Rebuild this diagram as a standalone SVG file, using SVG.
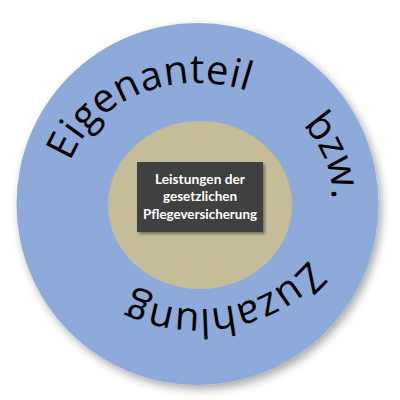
<svg xmlns="http://www.w3.org/2000/svg" width="400" height="400" viewBox="0 0 400 400">
  <defs>
    <filter id="softShadow" x="-20%" y="-20%" width="140%" height="140%">
      <feGaussianBlur in="SourceAlpha" stdDeviation="5"/>
      <feOffset dx="3" dy="4" result="b"/>
      <feComponentTransfer><feFuncA type="linear" slope="0.35"/></feComponentTransfer>
      <feMerge><feMergeNode/><feMergeNode in="SourceGraphic"/></feMerge>
    </filter>
    <filter id="boxShadow" x="-10%" y="-10%" width="130%" height="130%">
      <feGaussianBlur in="SourceAlpha" stdDeviation="1.5"/>
      <feOffset dx="2" dy="2"/>
      <feComponentTransfer><feFuncA type="linear" slope="0.4"/></feComponentTransfer>
      <feMerge><feMergeNode/><feMergeNode in="SourceGraphic"/></feMerge>
    </filter>
    <path id="ring" d="M64,196 A134,113 0 1,1 332,196 A134,113 0 1,1 64,196"/>
    <style>
      .arc { font-family: "Open Sans", "DejaVu Sans", sans-serif; font-size: 40px; fill: #000; }
      .inner { font-family: Lato, "Open Sans", sans-serif; font-weight: bold; font-size: 13.5px; fill: #fff; text-anchor: middle; }
    </style>
  </defs>

  <g id="outer-ring">
    <circle cx="197.5" cy="204" r="181" fill="#8EAADB" filter="url(#softShadow)"/>
    <text class="arc" letter-spacing="0.5"><textPath href="#ring" startOffset="35">Eigenanteil</textPath></text>
    <text class="arc" letter-spacing="-1"><textPath href="#ring" startOffset="310">bzw.</textPath></text>
    <text class="arc" letter-spacing="0"><textPath href="#ring" startOffset="458">Zuzahlung</textPath></text>
  </g>

  <g id="inner-circle">
    <ellipse cx="200" cy="205" rx="92" ry="84" fill="#C4BD97"/>
  </g>

  <g id="center-box">
    <rect x="137" y="162" width="126" height="70" fill="#3F3F3F" filter="url(#boxShadow)"/>
    <text class="inner" x="200" y="184" textLength="90" lengthAdjust="spacingAndGlyphs">Leistungen der</text>
    <text class="inner" x="200" y="201" textLength="74" lengthAdjust="spacingAndGlyphs">gesetzlichen</text>
    <text class="inner" x="200" y="218.5" textLength="114" lengthAdjust="spacingAndGlyphs">Pflegeversicherung</text>
  </g>
</svg>
